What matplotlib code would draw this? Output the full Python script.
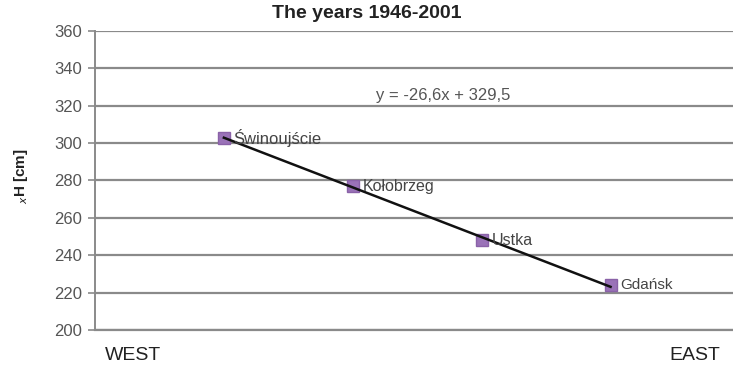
import numpy as np
import matplotlib
matplotlib.use("Agg")
import matplotlib.pyplot as plt

plt.rcParams['font.family'] = ['Liberation Sans', 'DejaVu Sans']

# Stations ordered west to east and their mean level H [cm]
stations = ["Świnoujście", "Kołobrzeg", "Ustka", "Gdańsk"]
position = [1, 2, 3, 4]
level_cm = [303, 277, 248, 224]
y_ticks = [200, 220, 240, 260, 280, 300, 320, 340, 360]

fig = plt.figure(figsize=(7.33, 3.66), dpi=100)
ax = fig.add_axes([0.1296, 0.0984, 0.8704, 0.8169])

ax.set_xlim(0, 4.95)
ax.set_ylim(200, 360)
ax.set_yticks(y_ticks)
ax.set_xticks([])
ax.yaxis.grid(True, color="#8a8a8a", linewidth=1.6)
ax.set_axisbelow(True)
for side in ("top", "right"):
    ax.spines[side].set_visible(False)
ax.spines["left"].set_color("#8a8a8a")
ax.spines["left"].set_linewidth(1.4)
ax.spines["bottom"].set_color("#8a8a8a")
ax.spines["bottom"].set_linewidth(1.6)
ax.tick_params(axis="y", length=5, width=1.2, color="#8a8a8a",
               labelsize=12, labelcolor="#555555", pad=4)

# linear trend across the stations
slope, intercept = np.polyfit(position, level_cm, 1)
xs = np.array([position[0], position[-1]])
ax.plot(xs, slope * xs + intercept, color="#111111", linewidth=1.8, zorder=3)

ax.plot(position, level_cm, linestyle="none", marker="s", markersize=9,
        markerfacecolor="#9a72b8", markeredgecolor="#8a62a8", zorder=2)

label_sizes = [12, 11.5, 11.5, 11]
for x, y, name, fs in zip(position, level_cm, stations, label_sizes):
    ax.annotate(name, (x, y), xytext=(7, 0), textcoords="offset points",
                va="center", ha="left", fontsize=fs, color="#444444", zorder=4)

ax.text(2.7, 325.5, "y = -26,6x + 329,5", ha="center", va="center",
        fontsize=12, color="#555555")

fig.text(0.5, 0.962, "The years 1946-2001", ha="center", va="center",
         fontsize=14, fontweight="bold", color="#222222")
fig.text(0.028, 0.52, "$_{x}$H [cm]", rotation=90, ha="center", va="center",
         fontsize=11, fontweight="bold", color="#222222")
fig.text(0.181, 0.03, "WEST", ha="center", va="center", fontsize=14, color="#222222")
fig.text(0.948, 0.03, "EAST", ha="center", va="center", fontsize=14, color="#222222")

fig.savefig("out.png", dpi=100)
